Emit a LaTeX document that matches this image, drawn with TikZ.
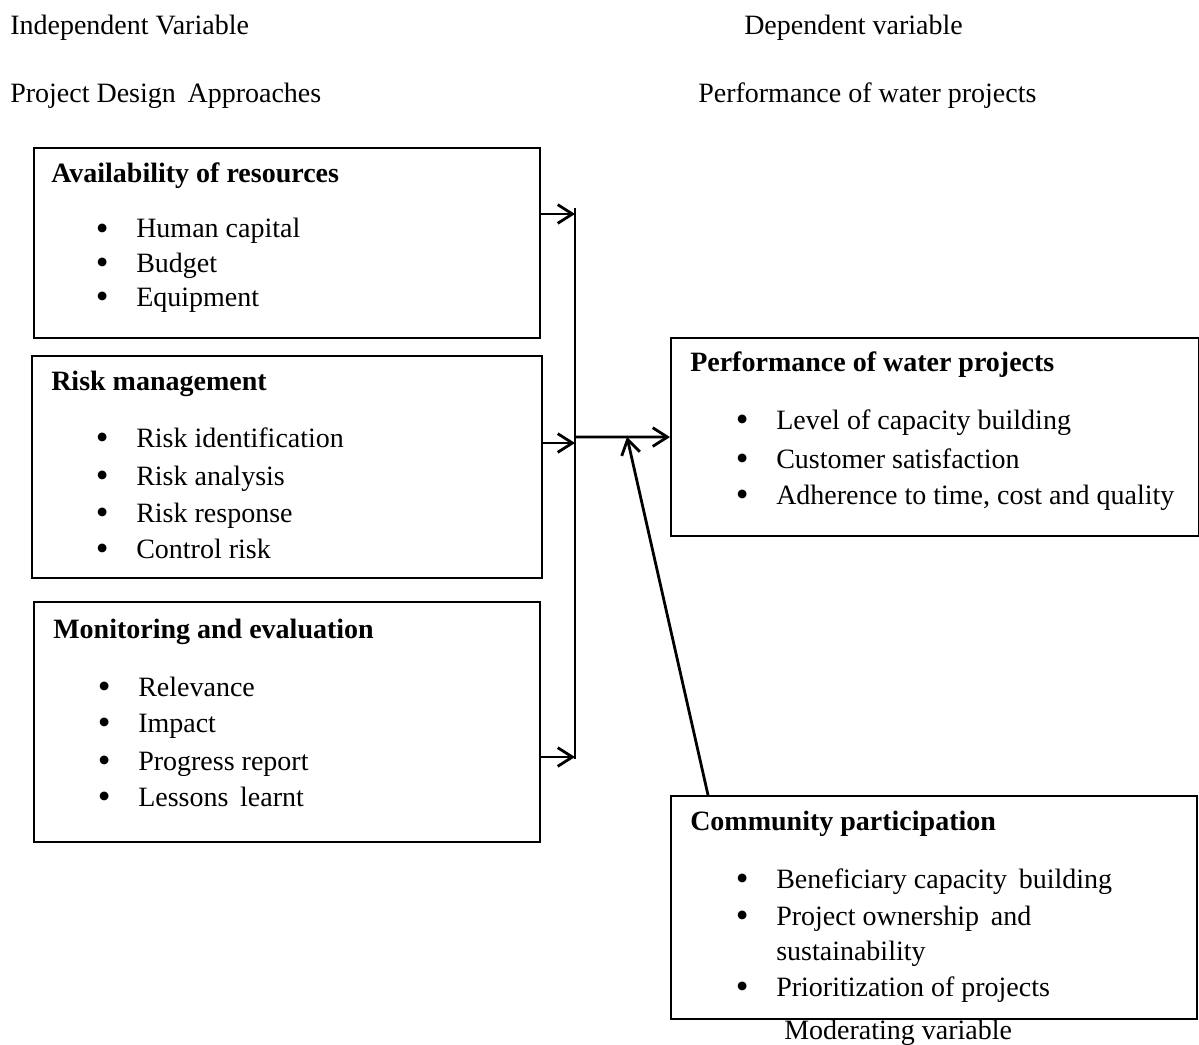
\documentclass[tikz,border=0pt]{standalone}
\usepackage{fontspec}
\setmainfont{Liberation Serif}
\usepackage{tikz}
\usetikzlibrary{arrows.meta}

\tikzset{
    box/.style={draw, line width=1.6pt, anchor=north west, inner sep=0pt},
    lbl/.style={anchor=base west, inner sep=0pt, font=\fontsize{21}{25}\selectfont},
    head/.style={lbl, font=\fontsize{21}{25}\selectfont\bfseries},
    link/.style={line width=2.1pt, -{Straight Barb[length=11pt, width=14pt, line width=2.1pt]}},
}
\newcommand{\bul}[1]{\makebox[30.75pt][l]{\hspace{0.5pt}\raisebox{-1.8pt}{\scalebox{1.3}{\textbullet}}}#1}

\begin{document}
\begin{tikzpicture}[x=0.75pt, y=-0.75pt]
    \useasboundingbox (0,0) rectangle (1199,1045);

    % headers
    \node[lbl] (indep) at (10, 35) {Independent Variable};
    \node[lbl] (pda) at (10, 103) {Project Design\, Approaches};
    \node[lbl] (dep) at (744, 35) {Dependent variable};
    \node[lbl] (perfhead) at (698, 103) {Performance of water projects};

    % boxes
    \node[box, minimum width=379.5pt, minimum height=142.5pt] (avail) at (33, 147) {};
    \node[box, minimum width=382.5pt, minimum height=166.5pt] (risk) at (31, 355) {};
    \node[box, minimum width=379.5pt, minimum height=180pt] (monit) at (33, 601) {};
    \node[box, minimum width=396pt, minimum height=148.5pt] (perf) at (670, 337) {};
    \node[box, minimum width=394.5pt, minimum height=167.25pt] (comm) at (670, 795) {};

    % availability of resources
    \node[head] (availt) at (51, 182) {Availability of resources};
    \node[lbl] (a1) at (95, 238) {\bul{Human capital}};
    \node[lbl] (a2) at (95, 272) {\bul{Budget}};
    \node[lbl] (a3) at (95, 306) {\bul{Equipment}};

    % risk management
    \node[head] (riskt) at (51, 390) {Risk management};
    \node[lbl] (r1) at (95, 447) {\bul{Risk identification}};
    \node[lbl] (r2) at (95, 485) {\bul{Risk analysis}};
    \node[lbl] (r3) at (95, 522) {\bul{Risk response}};
    \node[lbl] (r4) at (95, 558) {\bul{Control risk}};

    % monitoring and evaluation
    \node[head] (monitt) at (53, 638) {Monitoring and evaluation};
    \node[lbl] (m1) at (97, 696) {\bul{Relevance}};
    \node[lbl] (m2) at (97, 732) {\bul{Impact}};
    \node[lbl] (m3) at (97, 770) {\bul{Progress report}};
    \node[lbl] (m4) at (97, 806) {\bul{Lessons\, learnt}};

    % performance of water projects
    \node[head] (perft) at (690, 371) {Performance of water projects};
    \node[lbl] (p1) at (735, 429) {\bul{Level of capacity building}};
    \node[lbl] (p2) at (735, 468) {\bul{Customer satisfaction}};
    \node[lbl] (p3) at (735, 504) {\bul{Adherence to time, cost and quality}};

    % community participation
    \node[head] (commt) at (690, 830) {Community participation};
    \node[lbl] (c1) at (735, 888) {\bul{Beneficiary capacity\, building}};
    \node[lbl] (c2) at (735, 925) {\bul{Project ownership\, and}};
    \node[lbl] (c2b) at (776, 960) {sustainability};
    \node[lbl] (c3) at (735, 996) {\bul{Prioritization of projects}};

    \node[lbl] (moder) at (784, 1039) {Moderating variable};

    % connectors
    \coordinate (busA) at (575, 214);
    \coordinate (busR) at (575, 443);
    \coordinate (busM) at (575, 757);
    \coordinate (busO) at (575, 437);
    \coordinate (join) at (627, 437);
    \coordinate (commtop) at (708, 795);
    \coordinate (busTop) at (575, 208);
    \coordinate (busBot) at (575, 759);

    \draw[line width=2.1pt] (busTop) -- (busBot);
    \draw[link] (avail.east |- busA) -- (busA);
    \draw[link] (risk.east |- busR) -- (busR);
    \draw[link] (monit.east |- busM) -- (busM);
    \draw[link] (busO) -- (perf.west);
    \draw[link] (commtop |- comm.north) -- (join);
\end{tikzpicture}
\end{document}
